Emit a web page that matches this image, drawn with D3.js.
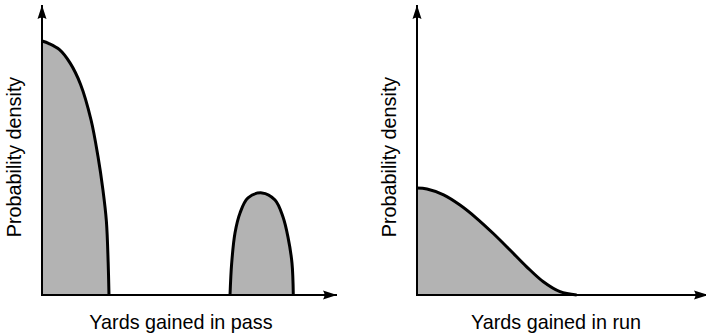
<!DOCTYPE html>
<html>
<head>
<meta charset="utf-8">
<script src="https://cdn.jsdelivr.net/npm/d3@7/dist/d3.min.js"></script>
<style>
  html, body { margin: 0; padding: 0; background: #fff; }
  svg { display: block; }
  text { font-family: "Liberation Sans", Arial, Helvetica, sans-serif; fill: #000; }
</style>
</head>
<body>
<svg id="chart" width="706" height="335"></svg>
<script>
// Pass plays: a large lump of short gains and a second lump of long completions
const passShortYards   = [0, 1, 2.5, 4, 5.5, 7, 8, 8.7, 9.2, 9.45, 9.57];
const passShortDensity = [1.0, 0.99, 0.966, 0.914, 0.83, 0.69, 0.545, 0.415, 0.29, 0.13, 0];
const passLongYards    = [26.86, 27.1, 27.57, 28.29, 29.43, 31.43, 33.29, 34.43, 35.14, 35.71, 35.9];
const passLongDensity  = [0, 0.126, 0.244, 0.323, 0.382, 0.402, 0.374, 0.307, 0.228, 0.126, 0];

// Run plays: a single smooth falloff
const runYards   = [0, 1.43, 3.8, 6.14, 8.52, 10.9, 13.29, 15.67, 18.05, 20.43, 22.81];
const runDensity = [0.421, 0.417, 0.394, 0.354, 0.302, 0.242, 0.177, 0.111, 0.052, 0.013, 0];

const xTitles = ["Yards gained in pass", "Yards gained in run"];
const yTitles = ["Probability density", "Probability density"];

const svg = d3.select("#chart");

// arrowhead used at the end of every axis
svg.append("defs").append("marker")
  .attr("id", "arrow")
  .attr("viewBox", "-15 -5 16 10")
  .attr("refX", 0).attr("refY", 0)
  .attr("markerWidth", 16).attr("markerHeight", 10)
  .attr("markerUnits", "userSpaceOnUse")
  .attr("orient", "auto")
  .append("path")
  .attr("d", "M0,0 L-14,-4.5 Q-11,0 -14,4.5 Z")
  .attr("fill", "#000");

const y = d3.scaleLinear().domain([0, 1]).range([295, 41]);
const curve = d3.curveCatmullRom.alpha(0.5);

const panels = [
  { x0: 42,  tip: 337, title: 0, series: [[passShortYards, passShortDensity], [passLongYards, passLongDensity]] },
  { x0: 417, tip: 708, title: 1, series: [[runYards, runDensity]] }
];

panels.forEach(p => {
  const x = d3.scaleLinear().domain([0, 40]).range([p.x0, p.x0 + 280]);
  const g = svg.append("g");

  const area = d3.area()
    .x(d => x(d[0])).y0(y(0)).y1(d => y(d[1]))
    .curve(curve);
  const line = d3.line()
    .x(d => x(d[0])).y(d => y(d[1]))
    .curve(curve);

  p.series.forEach(([xs, ys]) => {
    const pts = xs.map((v, i) => [v, ys[i]]);
    g.append("path").attr("d", area(pts)).attr("fill", "#b3b3b3");
    g.append("path").attr("d", line(pts))
      .attr("fill", "none").attr("stroke", "#000")
      .attr("stroke-width", 3).attr("stroke-linejoin", "round");
  });

  // axes with arrowheads
  g.append("line")
    .attr("x1", x(0)).attr("y1", y(0)).attr("x2", p.tip).attr("y2", y(0))
    .attr("stroke", "#000").attr("stroke-width", 2)
    .attr("marker-end", "url(#arrow)");
  g.append("line")
    .attr("x1", x(0)).attr("y1", y(0) + 1).attr("x2", x(0)).attr("y2", 5)
    .attr("stroke", "#000").attr("stroke-width", 2)
    .attr("marker-end", "url(#arrow)");

  g.append("text")
    .attr("x", x(0) + 139).attr("y", 329)
    .attr("text-anchor", "middle")
    .attr("font-size", 19.8)
    .text(xTitles[p.title]);

  g.append("text")
    .attr("transform", `translate(${x(0) - 21},157) rotate(-90)`)
    .attr("text-anchor", "middle")
    .attr("font-size", 19.8)
    .text(yTitles[p.title]);
});
</script>
</body>
</html>
